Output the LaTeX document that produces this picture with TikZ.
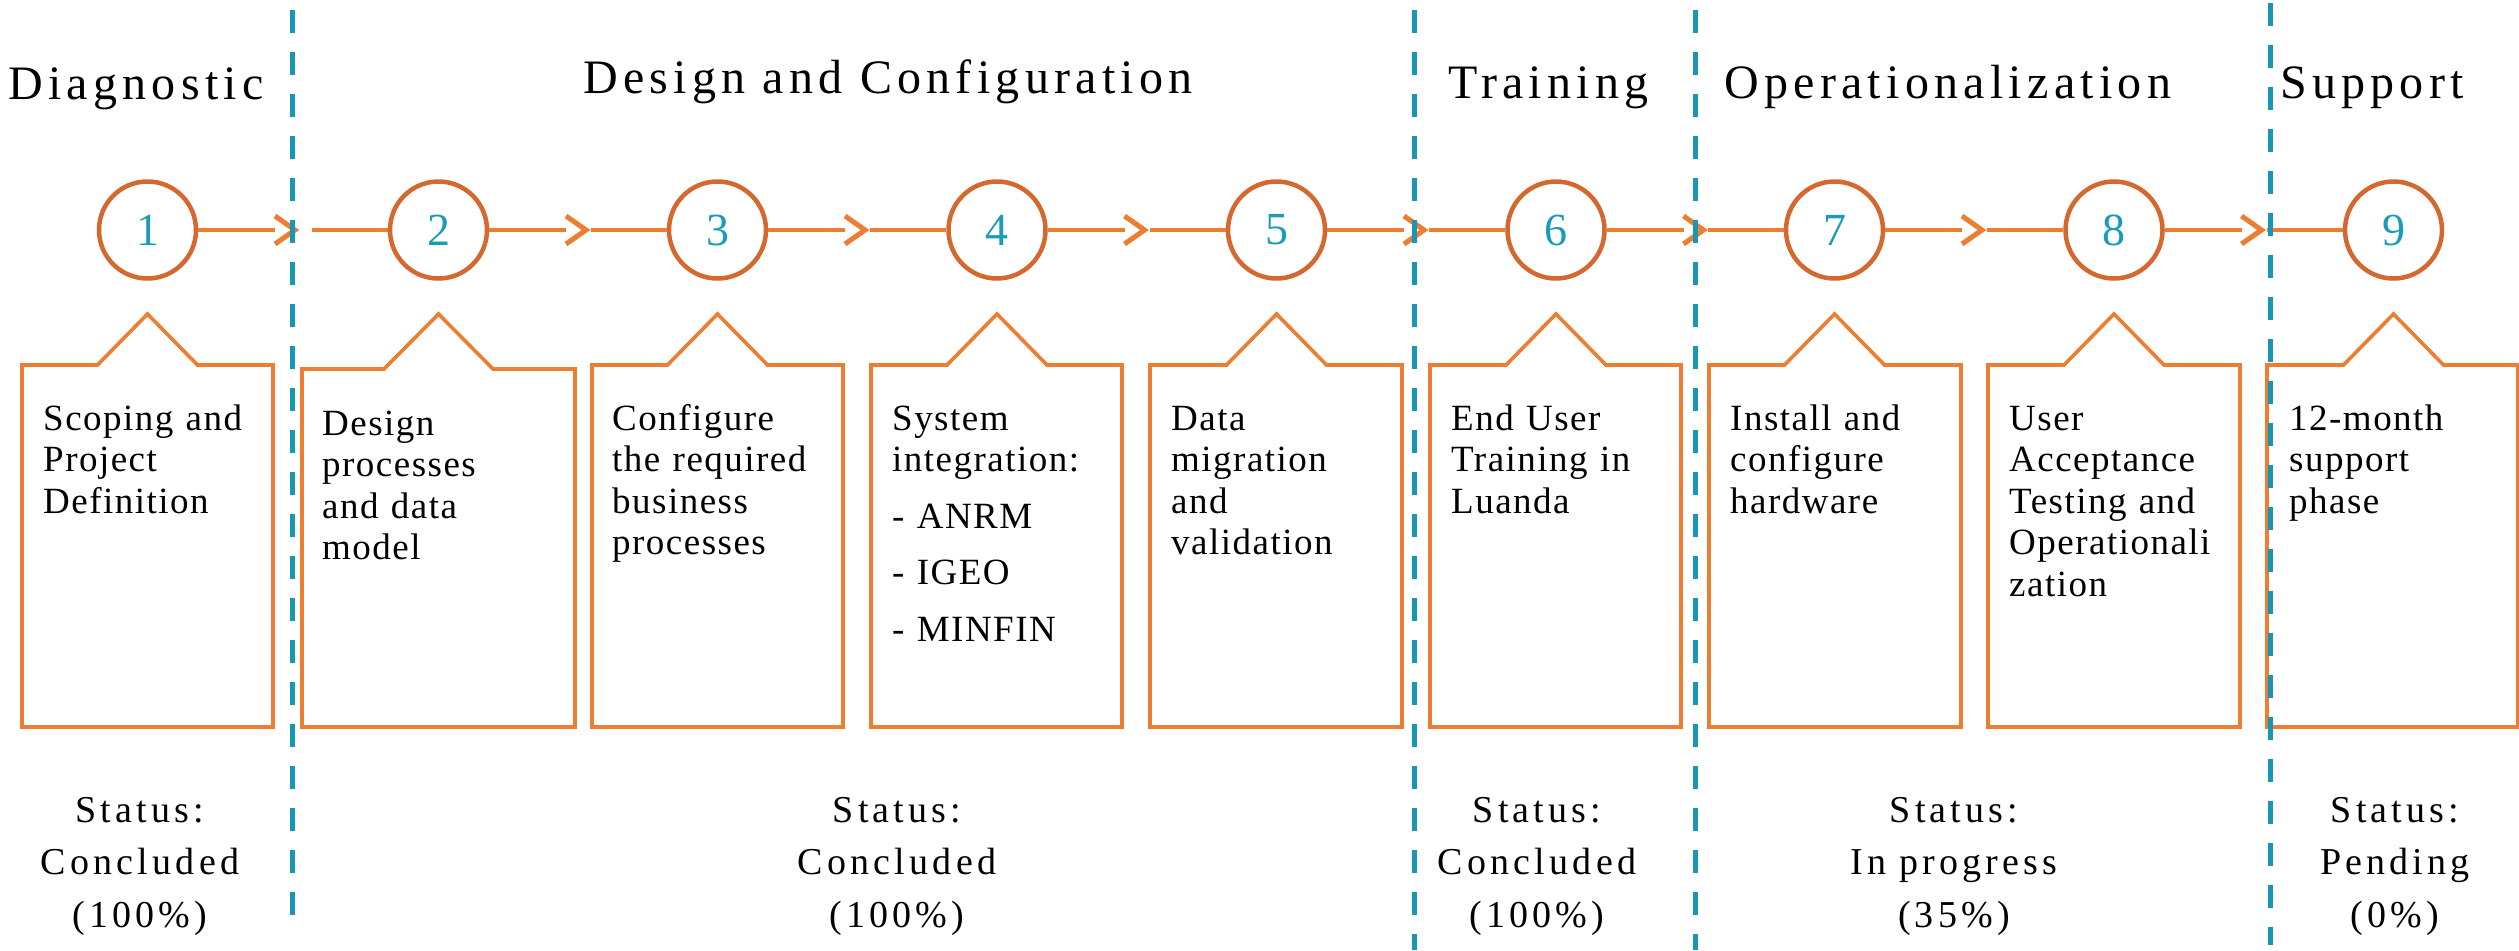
\documentclass[tikz,border=0pt]{standalone}
\usepackage{fontspec}
\setmainfont{Liberation Serif}
\newfontfamily\trackedfont{Liberation Serif}[LetterSpace=11]
\newfontfamily\boxtextfont{Liberation Serif}[LetterSpace=4]
\definecolor{accorange}{HTML}{ED7D31}
\definecolor{circorange}{HTML}{D4682F}
\definecolor{tealline}{HTML}{1797B3}
\definecolor{tealdigit}{HTML}{1A9CB8}
\newcommand{\calloutbox}[5]{%
  \draw[calloutline] (#1,#5) -- ({#3-#4},#5) -- (#3,314) -- ({#3+#4},#5) -- (#2,#5) -- (#2,727) -- (#1,727) -- cycle;}
\begin{document}
\begin{tikzpicture}[x=1bp,y=-1bp,
  circ/.style={circle, draw=circorange, line width=4.5bp, minimum size=97bp, inner sep=0pt, text=tealdigit, font=\fontsize{46bp}{46bp}\selectfont},
  conn/.style={draw=accorange, line width=4.7bp},
  chev/.style={draw=accorange, line width=5bp, line join=miter},
  calloutline/.style={draw=accorange, line width=3.6bp, line join=miter},
  boxtext/.style={anchor=base west, inner sep=0pt, text width=235bp, align=left, font=\boxtextfont\fontsize{37bp}{41.5bp}\selectfont},
  status/.style={anchor=base, inner sep=0pt, text width=320bp, align=center, font=\trackedfont\fontsize{38bp}{52.5bp}\selectfont},
  phase/.style={anchor=base west, inner sep=0pt, font=\trackedfont\fontsize{48bp}{48bp}\selectfont},
  sep/.style={draw=tealline, line width=5bp, dash pattern=on 23bp off 19bp}
]
\useasboundingbox (0,0) rectangle (2519,950);
\fill[white] (0,0) rectangle (2519,950);

% phase titles
\node[phase] (h1) at (8,99) {Diagnostic};
\node[phase] (h2) at (583,93) {Design and Configuration};
\node[phase] (h3) at (1448,98) {Training};
\node[phase] (h4) at (1724,98) {Operationalization};
\node[phase] (h5) at (2280,98) {Support};

% callout boxes
\calloutbox{22}{273}{147.5}{50}{365}
\calloutbox{302}{575}{438.5}{54.5}{369}
\calloutbox{592}{843}{717.5}{50}{365}
\calloutbox{871}{1122}{997}{50}{365}
\calloutbox{1150}{1402}{1276.5}{50}{365}
\calloutbox{1430}{1681}{1556}{50}{365}
\calloutbox{1709}{1961}{1834.5}{50}{365}
\calloutbox{1988}{2240}{2114}{50}{365}
\calloutbox{2267}{2518}{2393.5}{50}{365}

% circles
\node[circ] (c1) at (147.5,230) {1};
\node[circ] (c2) at (438.5,230) {2};
\node[circ] (c3) at (717.5,230) {3};
\node[circ] (c4) at (997,230) {4};
\node[circ] (c5) at (1276.5,230) {5};
\node[circ] (c6) at (1556,230) {6};
\node[circ] (c7) at (1834.5,230) {7};
\node[circ] (c8) at (2114,230) {8};
\node[circ] (c9) at (2393.5,230) {9};

% chevron tips and restart points
\coordinate (t1) at (295,230);    \coordinate (s2) at (311.5,230);
\coordinate (t2) at (586,230);    \coordinate (s3) at (590.5,230);
\coordinate (t3) at (865,230);    \coordinate (s4) at (870,230);
\coordinate (t4) at (1144.5,230); \coordinate (s5) at (1149.5,230);
\coordinate (t5) at (1424,230);   \coordinate (s6) at (1429,230);
\coordinate (t6) at (1703.5,230); \coordinate (s7) at (1707.5,230);
\coordinate (t7) at (1982,230);   \coordinate (s8) at (1987,230);
\coordinate (t8) at (2261.5,230); \coordinate (s9) at (2266.5,230);

\foreach \a/\b in {1/2,2/3,3/4,4/5,5/6,6/7,7/8,8/9}{
  \draw[conn] (c\a.east) -- ([xshift=-20bp]t\a);
  \draw[chev] ([shift={(-20,-14)}]t\a) -- (t\a) -- ([shift={(-20,14)}]t\a);
  \draw[conn] (s\b) -- (c\b.west);
}

% box texts
\node[boxtext] (b1) at (43,430) {Scoping and\\Project\\Definition};
\node[boxtext] (b2) at (322,435) {Design\\processes\\and data\\model};
\node[boxtext] (b3) at (612,430) {Configure\\the required\\business\\processes};
\node[boxtext] (b4) at (892,430) {System\\integration:\\[15bp]- ANRM\\[15bp]- IGEO\\[15bp]- MINFIN};
\node[boxtext] (b5) at (1171,430) {Data\\migration\\and\\validation};
\node[boxtext] (b6) at (1451,430) {End User\\Training in\\Luanda};
\node[boxtext] (b7) at (1730,430) {Install and\\configure\\hardware};
\node[boxtext] (b8) at (2009,430) {User\\Acceptance\\Testing and\\Operationali\\zation};
\node[boxtext] (b9) at (2289,430) {12-month\\support\\phase};

% status texts
\node[status] (st1) at (140,822) {Status:\\Concluded\\(100\%)};
\node[status] (st2) at (897,822) {Status:\\Concluded\\(100\%)};
\node[status] (st3) at (1537,822) {Status:\\Concluded\\(100\%)};
\node[status] (st4) at (1954,822) {Status:\\In progress\\(35\%)};
\node[status] (st5) at (2395,822) {Status:\\Pending\\(0\%)};

% phase separators
\draw[sep] (292,10) -- (292,917);
\draw[sep] (1414,10) -- (1414,950);
\draw[sep] (1695,10) -- (1695,950);
\draw[sep] (2270,3) -- (2270,945);
\end{tikzpicture}
\end{document}
